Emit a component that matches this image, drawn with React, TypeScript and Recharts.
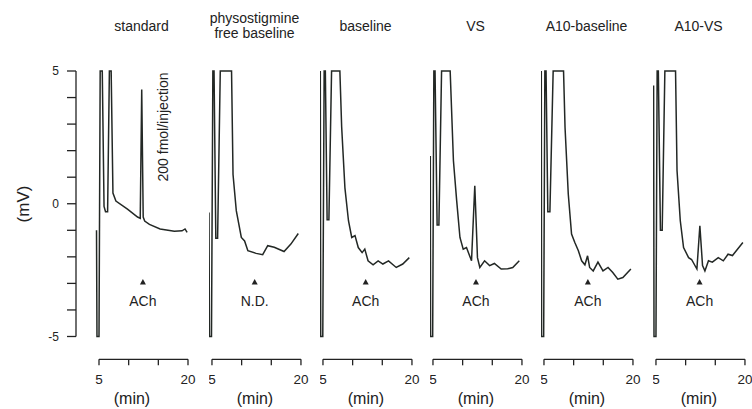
import React from 'react';
import { LineChart, Line, XAxis, YAxis, ReferenceDot } from 'recharts';

// retention time (min) and detector signal (mV)
const standardTime = [4.58, 4.66, 5.0, 5.2, 5.55, 5.85, 6.1, 6.45, 6.75, 7.05, 7.35, 7.85, 9.8, 11.5, 11.95, 12.2, 12.45, 12.7, 13.5, 15.3, 17.7, 19.0, 19.5, 19.85];
const standardMv = [-1.0, -5, -5, 5, 5, -0.1, -0.3, -0.3, 5, 5, 0.4, 0.1, -0.2, -0.5, -0.55, 4.3, -0.5, -0.65, -0.78, -0.95, -1.04, -1.02, -0.95, -1.08];

const freeTime = [4.5, 4.58, 4.92, 5.15, 5.35, 5.65, 5.95, 6.4, 8.3, 8.55, 9.1, 9.95, 10.5, 11.05, 12.45, 13.55, 14.4, 15.5, 17.15, 18.3, 19.55];
const freeMv = [-0.33, -5, -5, 5, 5, -1.3, -1.3, 5, 5, 1.1, -0.26, -1.27, -1.4, -1.77, -1.87, -1.92, -1.58, -1.64, -1.8, -1.52, -1.12];

const baselineTime = [4.55, 4.62, 4.97, 5.2, 5.4, 5.7, 6.0, 6.45, 7.85, 8.15, 8.7, 9.3, 9.85, 10.4, 10.95, 11.6, 12.05, 12.6, 13.45, 14.3, 15.1, 16.05, 17.35, 18.45, 19.55];
const baselineMv = [5, -5, -5, 5, 5, -0.6, -0.6, 5, 5, 2.9, 0.6, -0.64, -1.27, -1.2, -1.65, -1.84, -1.71, -2.15, -2.3, -2.15, -2.27, -2.15, -2.4, -2.27, -2.03];

const vsTime = [4.55, 4.6, 4.95, 5.15, 5.35, 5.7, 6.0, 6.45, 7.9, 8.45, 9.0, 9.55, 10.1, 10.65, 11.5, 12.05, 12.5, 12.9, 13.7, 14.55, 15.35, 16.5, 17.6, 18.45, 19.55];
const vsMv = [1.8, -5, -5, 5, 5, -0.8, -0.8, 5, 5, 1.62, 0.11, -1.27, -1.71, -1.65, -2.15, 0.68, -2.03, -2.4, -2.15, -2.33, -2.25, -2.46, -2.45, -2.4, -2.15];

const a10BaselineTime = [4.55, 4.6, 4.95, 5.15, 5.35, 5.65, 6.0, 6.55, 8.3, 8.55, 9.1, 9.65, 10.2, 10.8, 11.35, 11.9, 12.35, 12.7, 13.3, 14.1, 14.95, 15.8, 16.6, 17.45, 18.3, 19.65];
const a10BaselineMv = [5, -5, -5, 5, 5, -0.3, -0.3, 5, 5, 2.88, 0.36, -1.14, -1.46, -1.77, -2.15, -2.3, -1.96, -2.4, -2.53, -2.2, -2.53, -2.4, -2.59, -2.84, -2.78, -2.46];

const a10VsTime = [4.6, 4.67, 5.0, 5.2, 5.4, 5.75, 6.05, 6.5, 8.3, 8.55, 9.1, 9.65, 10.5, 11.0, 11.9, 12.4, 12.85, 13.25, 13.85, 14.5, 15.5, 16.35, 17.15, 17.9, 19.65];
const a10VsMv = [4.45, -5, -5, 5, 5, -1.0, -1.0, 5, 5, 1.25, -0.64, -1.65, -2.03, -2.1, -2.46, -0.83, -2.33, -2.53, -2.15, -2.2, -2.03, -2.15, -1.9, -1.95, -1.46];

const titles = [['standard'], ['physostigmine', 'free baseline'], ['baseline'], ['VS'], ['A10-baseline'], ['A10-VS']];
const achTime = [12.4, 12.2, 12.2, 12.25, 12.4, 12.35];
const achLabel = ['ACh', 'N.D.', 'ACh', 'ACh', 'ACh', 'ACh'];
const achMarkY = -2.95;
const xTicks = [5, 10, 15, 20];
const xLabelled = [5, 20];
const yTicks = [-5, -4, -3, -2, -1, 0, 1, 2, 3, 4, 5];
const yLabelled = [-5, 0, 5];

const traces = [
  [standardTime, standardMv],
  [freeTime, freeMv],
  [baselineTime, baselineMv],
  [vsTime, vsMv],
  [a10BaselineTime, a10BaselineMv],
  [a10VsTime, a10VsMv],
];

// layout
const PX_MIN = 89 / 15;
const PX_MV = 26.55;
const Y_MIN = -5.86;
const Y_MAX = 5;
const PLOT_TOP = 71;
const TOP_MARGIN = 10;
const X_AXIS_H = 50;
const Y_AXIS_W = 60;
const RIGHT = 14;
const Y_AXIS_X = 76;
const panelStart = [99, 212, 323, 433, 544, 656];
const ink = '#222';
const lineInk = '#232825';

const tMinOf = (i: number) => (i === 0 ? 5 - (panelStart[0] - Y_AXIS_X) / PX_MIN : 4.5);

// bracket-style axes: the tick at 5 min / 5 mV also draws the axis line over 5–20 min / 5 to -5 mV
const XTick = (p: any) => {
  const v = p.payload.value;
  return (
    <g>
      <path d={`M${p.x},${p.y} v6`} stroke={ink} strokeWidth={1.3} fill="none" />
      {v === xTicks[0] ? (
        <path d={`M${p.x},${p.y} h${(xTicks[3] - xTicks[0]) * PX_MIN}`} stroke={ink} strokeWidth={1.3} fill="none" />
      ) : null}
      {xLabelled.includes(v) ? (
        <text x={p.x} y={p.y + 15} dy="0.71em" textAnchor="middle" fontSize={13.5} fill={ink}>
          {v}
        </text>
      ) : null}
    </g>
  );
};

const YTick = (p: any) => {
  const v = p.payload.value;
  return (
    <g>
      <path d={`M${p.x},${p.y} h-9`} stroke={ink} strokeWidth={1.3} fill="none" />
      {v === Y_MAX ? (
        <path d={`M${p.x},${p.y} v${10 * PX_MV}`} stroke={ink} strokeWidth={1.3} fill="none" />
      ) : null}
      {yLabelled.includes(v) ? (
        <text x={p.x - 17} y={p.y} dy="0.355em" textAnchor="end" fontSize={12} fill={ink}>
          {v}
        </text>
      ) : null}
    </g>
  );
};

const triangle = (p: any) => (
  <path
    d={`M${p.cx},${p.cy - 3} L${p.cx - 3},${p.cy + 2.5} L${p.cx + 3},${p.cy + 2.5} Z`}
    fill={ink}
  />
);

const Panel = ({ i }: { i: number }) => {
  const first = i === 0;
  const x0 = panelStart[i];
  const tMin = tMinOf(i);
  const plotW = (20 - tMin) * PX_MIN;
  const plotH = (Y_MAX - Y_MIN) * PX_MV;
  const yW = first ? Y_AXIS_W : 0;
  const left = x0 - (5 - tMin) * PX_MIN - yW;
  const [ts, vs] = traces[i];
  const data = ts.map((t, k) => ({ t, v: vs[k] }));

  return (
    <div style={{ position: 'absolute', left, top: PLOT_TOP - TOP_MARGIN }}>
      <LineChart
        width={yW + plotW + RIGHT}
        height={TOP_MARGIN + plotH + X_AXIS_H}
        data={data}
        margin={{ top: TOP_MARGIN, right: RIGHT, bottom: 0, left: 0 }}
      >
        <XAxis
          dataKey="t"
          type="number"
          domain={[tMin, 20]}
          ticks={xTicks}
          interval={0}
          height={X_AXIS_H}
          stroke={ink}
          tickSize={0}
          tickMargin={0}
          axisLine={false}
          tickLine={false}
          tick={XTick}
          label={{ value: '(min)', position: 'insideBottom', offset: 5, fontSize: 16, fill: ink }}
        />
        <YAxis
          type="number"
          domain={[Y_MIN, Y_MAX]}
          hide={!first}
          width={Y_AXIS_W}
          ticks={yTicks}
          interval={0}
          stroke={ink}
          tickSize={0}
          tickMargin={0}
          axisLine={false}
          tickLine={false}
          tick={YTick}
        />
        <Line
          dataKey="v"
          type="linear"
          stroke={lineInk}
          strokeWidth={1.5}
          dot={false}
          isAnimationActive={false}
        />
        <ReferenceDot
          x={achTime[i]}
          y={achMarkY}
          r={3}
          shape={triangle}
          label={{ value: achLabel[i], position: 'bottom', offset: 11, fontSize: 14, fill: ink }}
        />
      </LineChart>
    </div>
  );
};

const textBox: React.CSSProperties = {
  position: 'absolute',
  textAlign: 'center',
  color: ink,
  whiteSpace: 'nowrap',
};

export default function App() {
  return (
    <div
      style={{
        position: 'absolute',
        left: 0,
        top: 0,
        width: 752,
        height: 409,
        fontFamily: '"Liberation Sans", Arial, sans-serif',
      }}
    >
      {traces.map((_, i) => (
        <Panel key={i} i={i} />
      ))}
      {titles.map((lines, i) => (
        <div
          key={i}
          style={{
            ...textBox,
            left: panelStart[i] + 42.5 - 60,
            top: lines.length === 1 ? 19 : 11,
            width: 120,
            fontSize: 14,
            lineHeight: '14.5px',
          }}
        >
          {lines.map((s, k) => (
            <div key={k}>{s}</div>
          ))}
        </div>
      ))}
      <div
        style={{
          ...textBox,
          left: 163 - 70,
          top: 127 - 8,
          width: 140,
          height: 16,
          fontSize: 14,
          lineHeight: '16px',
          transform: 'rotate(-90deg)',
        }}
      >
        200 fmol/injection
      </div>
      <div
        style={{
          ...textBox,
          left: 24 - 30,
          top: 204 - 10,
          width: 60,
          height: 20,
          fontSize: 17,
          lineHeight: '20px',
          transform: 'rotate(-90deg)',
        }}
      >
        (mV)
      </div>
    </div>
  );
}
